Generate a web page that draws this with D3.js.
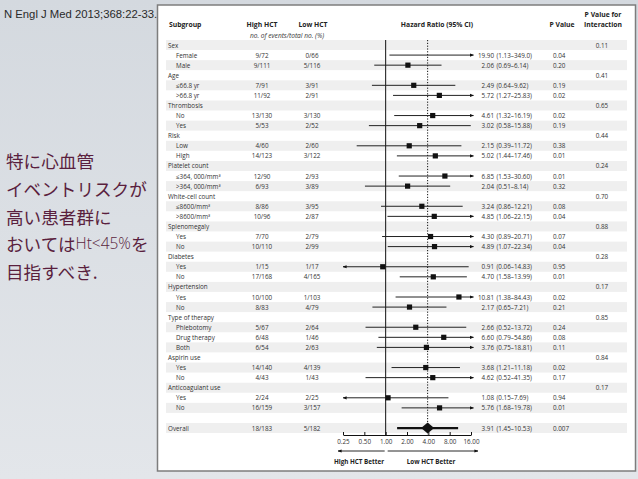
<!DOCTYPE html>
<html><head><meta charset="utf-8">
<script src="https://cdn.jsdelivr.net/npm/d3@7"></script>
<style>html,body{margin:0;padding:0;overflow:hidden;background:#dde1e6}</style>
</head><body>
<svg id="c" width="638" height="479"></svg>
<script>
// ---- data ----
const labels = ["Sex","Female","Male","Age","\u226466.8 yr",">66.8 yr","Thrombosis","No","Yes","Risk","Low","High",
 "Platelet count","\u2264364, 000/mm\u00b3",">364, 000/mm\u00b3","White-cell count","\u22648600/mm\u00b3",">8600/mm\u00b3",
 "Splenomegaly","Yes","No","Diabetes","Yes","No","Hypertension","Yes","No","Type of therapy","Phlebotomy","Drug therapy","Both",
 "Aspirin use","Yes","No","Anticoagulant use","Yes","No","","Overall"];
const isCategory = [1,0,0,1,0,0,1,0,0,1,0,0,1,0,0,1,0,0,1,0,0,1,0,0,1,0,0,1,0,0,0,1,0,0,1,0,0,0,0];
const highHCT = ["","9/72","9/111","","7/91","11/92","","13/130","5/53","","4/60","14/123","","12/90","6/93","","8/86","10/96","","7/70","10/110","","1/15","17/168","","10/100","8/83","","5/67","6/48","6/54","","14/140","4/43","","2/24","16/159","","18/183"];
const lowHCT = ["","0/66","5/116","","3/91","2/91","","3/130","2/52","","2/60","3/122","","2/93","3/89","","3/95","2/87","","2/79","2/99","","1/17","4/165","","1/103","4/79","","2/64","1/46","2/63","","4/139","1/43","","2/25","3/157","","5/182"];
const hr = [null,19.90,2.06,null,2.49,5.72,null,4.61,3.02,null,2.15,5.02,null,6.85,2.04,null,3.24,4.85,null,4.30,4.89,null,0.91,4.70,null,10.81,2.17,null,2.66,6.60,3.76,null,3.68,4.62,null,1.08,5.76,null,3.91];
const ciLow = [null,1.13,0.69,null,0.64,1.27,null,1.32,0.58,null,0.39,1.44,null,1.53,0.51,null,0.86,1.06,null,0.89,1.07,null,0.06,1.58,null,1.38,0.65,null,0.52,0.79,0.75,null,1.21,0.52,null,0.15,1.68,null,1.45];
const ciHigh = [null,"349.0","6.14",null,"9.62","25.83",null,"16.19","15.88",null,"11.72","17.46",null,"30.60","8.14",null,"12.21","22.15",null,"20.71","22.34",null,"14.83","13.99",null,"84.43","7.21",null,"13.72","54.86","18.81",null,"11.18","41.35",null,"7.69","19.78",null,"10.53"];
const pValue = ["","0.04","0.20","","0.19","0.02","","0.02","0.19","","0.38","0.01","","0.01","0.32","","0.08","0.04","","0.07","0.04","","0.95","0.01","","0.02","0.21","","0.24","0.08","0.11","","0.02","0.17","","0.94","0.01","","0.007"];
const pInteraction = ["0.11","","","0.41","","","0.65","","","0.44","","","0.24","","","0.70","","","0.88","","","0.28","","","0.17","","","0.85","","","","0.84","","","0.17","","","",""];
const axisTicks = [0.25,0.5,1,2,4,8,16];
const jpLines = [["特に心血管"],["イベントリスクが"],["高い患者群に"],["おいては","Ht<45%","を"],["目指すべき."]];
const citation = "N Engl J Med 2013;368:22-33.";

// ---- drawing ----
const svg = d3.select("#c");
const defs = svg.append("defs");
const g0 = defs.append("linearGradient").attr("id","bg").attr("x1",0).attr("y1",0).attr("x2",0).attr("y2",1);
g0.append("stop").attr("offset","0%").attr("stop-color","#d4d9df");
g0.append("stop").attr("offset","100%").attr("stop-color","#e3e6ea");
defs.append("marker").attr("id","arrR").attr("viewBox","0 0 10 10").attr("refX",9).attr("refY",5)
  .attr("markerWidth",4).attr("markerHeight",4).attr("markerUnits","userSpaceOnUse").attr("orient","auto")
  .append("path").attr("d","M0,1L10,5L0,9Z").attr("fill","#111");
svg.append("rect").attr("width",638).attr("height",479).attr("fill","url(#bg)");

svg.append("text").attr("x",4).attr("y",14).attr("dominant-baseline","central")
  .attr("font-family","Liberation Sans, Arial, sans-serif").attr("font-size",11.3).attr("fill","#2a2a2a").text(citation);

const jp = svg.append("g").selectAll("text").data(jpLines).join("text")
  .attr("x",6).attr("y",(d,i)=>160+i*27.8).attr("dominant-baseline","central")
  .attr("font-family","Noto Sans CJK JP").attr("font-weight",400).attr("font-size",17.6).attr("fill","#5a1f3e");
jp.selectAll("tspan").data(d=>d).join("tspan")
  .attr("font-family",(d,j)=>j===1?"Open Sans":null)
  .attr("font-size",(d,j)=>j===1?15.5:null)
  .attr("font-weight",(d,j)=>j===1?300:null)
  .text(d=>d);

// panel
svg.append("rect").attr("x",157.5).attr("y",5).attr("width",478).attr("height",466)
  .attr("fill","#fff").attr("stroke","#7d7d7d").attr("stroke-width",1.5);

const n = labels.length;
const y = d3.scaleLinear().domain([0, n-1]).range([45, 45+(n-1)*10.08]);
const x = d3.scaleLog().base(2).domain([0.25,16]).range([343,471]);
const font = "Open Sans, DejaVu Sans, sans-serif";
const txt = "#333";

// bands
svg.append("g").selectAll("rect").data(d3.range(n).filter(i=>i%2===0)).join("rect")
  .attr("x",166).attr("y",i=>y(i)-5).attr("width",461).attr("height",10).attr("fill","#efefef");

// headers
const hdr = svg.append("g").attr("font-family",font).attr("font-weight","bold").attr("font-size",6.8).attr("fill","#222");
hdr.append("text").attr("x",169).attr("y",24).attr("dominant-baseline","central").text("Subgroup");
hdr.append("text").attr("x",262).attr("y",24).attr("text-anchor","middle").attr("dominant-baseline","central").text("High HCT");
hdr.append("text").attr("x",313).attr("y",24).attr("text-anchor","middle").attr("dominant-baseline","central").text("Low HCT");
hdr.append("text").attr("x",437).attr("y",24).attr("text-anchor","middle").attr("dominant-baseline","central").text("Hazard Ratio (95% CI)");
hdr.append("text").attr("x",562).attr("y",24).attr("text-anchor","middle").attr("dominant-baseline","central").text("P Value");
hdr.append("text").attr("x",603).attr("y",14).attr("text-anchor","middle").attr("dominant-baseline","central").text("P Value for");
hdr.append("text").attr("x",603).attr("y",24).attr("text-anchor","middle").attr("dominant-baseline","central").text("Interaction");
svg.append("text").attr("x",287).attr("y",35).attr("text-anchor","middle").attr("dominant-baseline","central")
  .attr("font-family",font).attr("font-style","italic").attr("font-size",6.6).attr("fill","#333").text("no. of events/total no. (%)");

// rows text
const rows = svg.append("g").attr("font-family",font).attr("font-size",6.3).attr("fill",txt);
const idx = d3.range(n);
rows.selectAll(".lab").data(idx).join("text").attr("class","lab")
  .attr("x",i=>isCategory[i]||labels[i]==="Overall"?168:176).attr("y",i=>y(i)).attr("dominant-baseline","central").text(i=>labels[i]);
rows.selectAll(".hi").data(idx).join("text").attr("class","hi")
  .attr("x",262).attr("y",i=>y(i)).attr("text-anchor","middle").attr("dominant-baseline","central").text(i=>highHCT[i]);
rows.selectAll(".lo").data(idx).join("text").attr("class","lo")
  .attr("x",312).attr("y",i=>y(i)).attr("text-anchor","middle").attr("dominant-baseline","central").text(i=>lowHCT[i]);
const hrIdx = idx.filter(i=>hr[i]!==null);
rows.selectAll(".hrv").data(hrIdx).join("text").attr("class","hrv")
  .attr("x",494).attr("y",i=>y(i)).attr("text-anchor","end").attr("dominant-baseline","central").text(i=>hr[i].toFixed(2));
rows.selectAll(".ci").data(hrIdx).join("text").attr("class","ci")
  .attr("x",496.5).attr("y",i=>y(i)).attr("dominant-baseline","central").text(i=>"("+ciLow[i].toFixed(2)+"\u2013"+ciHigh[i]+")");
rows.selectAll(".pv").data(idx).join("text").attr("class","pv")
  .attr("x",553).attr("y",i=>y(i)).attr("dominant-baseline","central").text(i=>pValue[i]);
rows.selectAll(".pi").data(idx).join("text").attr("class","pi")
  .attr("x",602).attr("y",i=>y(i)).attr("text-anchor","middle").attr("dominant-baseline","central").text(i=>pInteraction[i]);

// reference lines
const axisY = 435;
svg.append("line").attr("x1",x(1)).attr("x2",x(1)).attr("y1",40).attr("y2",axisY).attr("stroke","#111").attr("stroke-width",1);
const overallI = n-1;
svg.append("line").attr("x1",x(hr[overallI])).attr("x2",x(hr[overallI])).attr("y1",40).attr("y2",axisY)
  .attr("stroke","#111").attr("stroke-width",1).attr("stroke-dasharray","1.2,1.6");

// CIs
const ciG = svg.append("g");
const subIdx = hrIdx.filter(i=>i!==overallI);
const [dmin,dmax] = x.domain();
ciG.selectAll("line").data(subIdx).join("line")
  .attr("x1",i=> ciLow[i]<dmin ? (+ciHigh[i]>dmax ? x(dmax) : x(+ciHigh[i])) : x(ciLow[i]))
  .attr("x2",i=> ciLow[i]<dmin ? x(dmin) : (+ciHigh[i]>dmax ? x(dmax)+2.5 : x(+ciHigh[i])))
  .attr("y1",i=>y(i)).attr("y2",i=>y(i))
  .attr("stroke","#222").attr("stroke-width",1)
  .attr("marker-end",i=> (ciLow[i]<dmin || +ciHigh[i]>dmax) ? "url(#arrR)" : null);
// squares
const sq = 5.2;
ciG.selectAll("rect").data(subIdx.filter(i=>hr[i]<=dmax)).join("rect")
  .attr("x",i=>x(hr[i])-sq/2).attr("y",i=>y(i)-sq/2).attr("width",sq).attr("height",sq).attr("fill","#111");
// overall
svg.append("line").attr("x1",x(ciLow[overallI])).attr("x2",x(+ciHigh[overallI])).attr("y1",y(overallI)).attr("y2",y(overallI))
  .attr("stroke","#111").attr("stroke-width",2.2);
const ox = x(hr[overallI]), oy = y(overallI);
svg.append("path").attr("d",`M${ox-6.5},${oy}L${ox},${oy-5.5}L${ox+6.5},${oy}L${ox},${oy+5.5}Z`).attr("fill","#111");

// axis
const axis = d3.axisBottom(x).tickValues(axisTicks).tickFormat(d3.format(".2f")).tickSizeInner(-3).tickSizeOuter(0).tickPadding(5);
const ag = svg.append("g").attr("transform",`translate(0,${axisY})`).call(axis);
ag.select(".domain").attr("stroke","#111");
ag.selectAll(".tick line").attr("stroke","#111");
ag.selectAll("text").attr("font-family",font).attr("font-size",6.3).attr("fill","#333");

// direction arrows
const arrY = 451;
svg.append("line").attr("x1",x(1)-1).attr("x2",338).attr("y1",arrY).attr("y2",arrY).attr("stroke","#111").attr("stroke-width",0.9).attr("marker-end","url(#arrR)");
svg.append("line").attr("x1",x(1)+2).attr("x2",478).attr("y1",arrY).attr("y2",arrY).attr("stroke","#111").attr("stroke-width",0.9).attr("marker-end","url(#arrR)");
svg.append("text").attr("x",359).attr("y",461).attr("text-anchor","middle").attr("dominant-baseline","central")
  .attr("font-family",font).attr("font-weight","bold").attr("font-size",6.3).attr("fill","#222").text("High HCT Better");
svg.append("text").attr("x",431).attr("y",461).attr("text-anchor","middle").attr("dominant-baseline","central")
  .attr("font-family",font).attr("font-weight","bold").attr("font-size",6.3).attr("fill","#222").text("Low HCT Better");
</script>
</body></html>
